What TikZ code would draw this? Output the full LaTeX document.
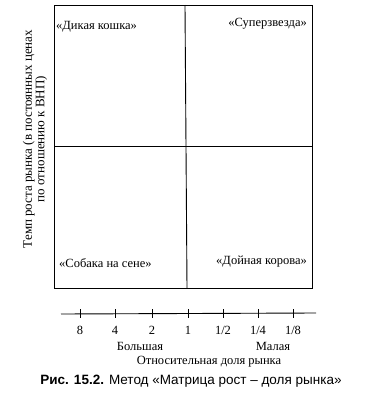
\documentclass[tikz,border=0pt]{standalone}
\usepackage{fontspec}
\setmainfont{Liberation Serif}
\newfontfamily\capfont{Liberation Sans}
\begin{document}
\begin{tikzpicture}[x=1pt,y=-1pt,
  lbl/.style={font=\fontsize{12.5}{14}\selectfont, inner sep=0pt},
  frame/.style={line width=0.9pt},
  tick/.style={line width=0.9pt}]
\useasboundingbox (0,0) rectangle (371,394);
% frame
\coordinate (tl) at (54,5);
\coordinate (br) at (312,288);
\draw[frame] (tl) rectangle (br);
\coordinate (vt) at (185,5);
\coordinate (vb) at (187,288);
\draw[frame] (vt) -- (vb);
\coordinate (hl) at (54,146);
\coordinate (hr) at (312,146);
\draw[frame] (hl) -- (hr);
% quadrant labels
\node[lbl, anchor=west] (wc) at (56,27) {«Дикая кошка»};
\node[lbl, anchor=east] (ss) at (307,24) {«Суперзвезда»};
\node[lbl, anchor=west] (dg) at (59,263) {«Собака на сене»};
\node[lbl, anchor=east] (cc) at (307,262) {«Дойная корова»};
% y label
\node[font=\fontsize{13}{12.5}\selectfont, inner sep=0pt, rotate=90, align=center] (ylab) at (35,139) {Темп роста рынка (в постоянных ценах\\по отношению к ВНП)};
% axis
\coordinate (al) at (61,314);
\coordinate (ar) at (316,313);
\draw[tick] (al) -- (ar);
\foreach \x/\t [count=\i] in {80/8,115/4,152/2,188/1,223/1\slash 2,258/1\slash 4,293/1\slash 8}{
  \draw[tick] (\x,309) -- (\x,318);
  \node[lbl] (t\i) at (\x,330) {\t};
}
\node[lbl] (big) at (140,346) {Большая};
\node[lbl] (small) at (273,346) {Малая};
\node[lbl] (xlab) at (209,362) {Относительная доля рынка};
\node[font=\capfont\fontsize{13.5}{15}\selectfont, inner sep=0pt] (cap) at (191,381) {\textbf{Рис. 15.2.} Метод «Матрица рост – доля рынка»};
\end{tikzpicture}
\end{document}
